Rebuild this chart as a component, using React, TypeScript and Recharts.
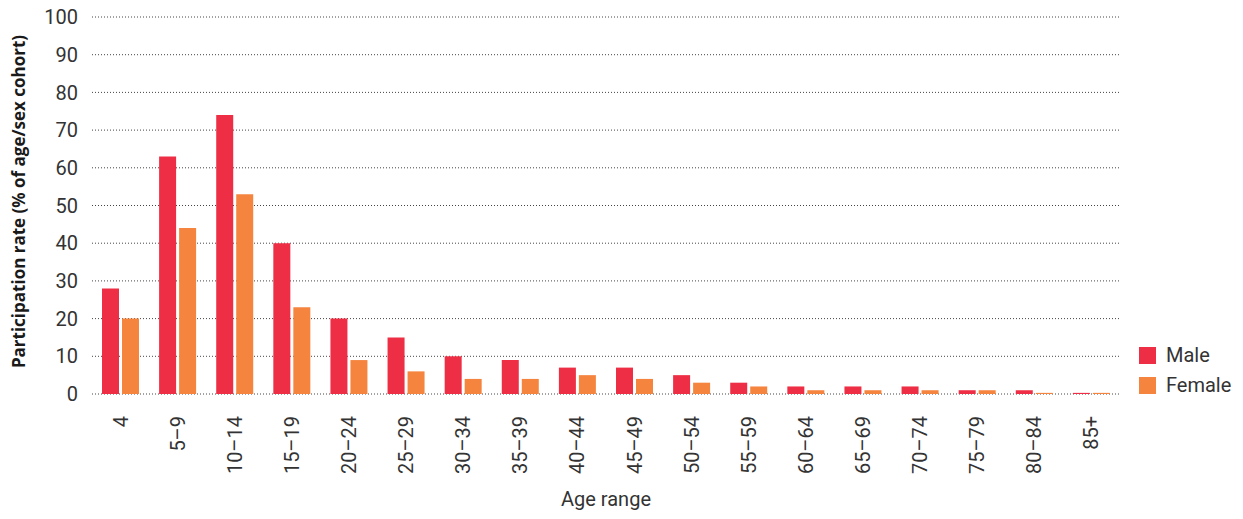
import React from 'react';
import { BarChart, Bar, XAxis, YAxis, CartesianGrid } from 'recharts';

const ageRanges = ['4', '5–9', '10–14', '15–19', '20–24', '25–29', '30–34', '35–39', '40–44', '45–49', '50–54', '55–59', '60–64', '65–69', '70–74', '75–79', '80–84', '85+'];
const maleRates = [28, 63, 74, 40, 20, 15, 10, 9, 7, 7, 5, 3, 2, 2, 2, 1, 1, 0.3];
const femaleRates = [20, 44, 53, 23, 9, 6, 4, 4, 5, 4, 3, 2, 1, 1, 1, 1, 0.3, 0.3];
const yTicks = [0, 10, 20, 30, 40, 50, 60, 70, 80, 90, 100];
const seriesNames = ['Male', 'Female'];

const MALE = '#ee2e44';
const FEMALE = '#f5843f';
const FONT = 'Roboto, "Open Sans", sans-serif';

const data = ageRanges.map((age, i) => ({ age, male: maleRates[i], female: femaleRates[i] }));

const AgeTick = ({ x, y, payload }: { x?: number; y?: number; payload?: { value: string } }) => {
  const ty = (y ?? 0) + 14;
  return (
    <text
      x={x}
      y={ty}
      transform={`rotate(-90, ${x}, ${ty})`}
      textAnchor="end"
      dominantBaseline="central"
      fill="#333"
      fontSize={20}
      fontFamily={FONT}
    >
      {payload?.value}
    </text>
  );
};

const YTitle = ({ viewBox }: { viewBox?: { x: number; y: number; width: number; height: number } }) => {
  const cx = 18;
  const cy = viewBox ? viewBox.y + viewBox.height / 2 - 4 : 200;
  return (
    <text
      x={cx}
      y={cy}
      transform={`rotate(-90, ${cx}, ${cy})`}
      textAnchor="middle"
      dominantBaseline="central"
      fill="#1a1a1a"
      fontSize={17}
      fontWeight="bold"
      fontFamily='"Open Sans", sans-serif'
    >
      Participation rate (% of age/sex cohort)
    </text>
  );
};

export default function App() {
  const colors = [MALE, FEMALE];
  return (
    <div style={{ margin: -8, background: '#fff', width: 1243, height: 519, position: 'relative' }}>
      <BarChart
        width={1243}
        height={519}
        data={data}
        margin={{ top: 17, right: 123, bottom: 0, left: 0 }}
        barCategoryGap={10}
        barGap={3}
      >
        <CartesianGrid vertical={false} stroke="#444" strokeDasharray="1 2" />
        <XAxis
          dataKey="age"
          height={125}
          tickLine={false}
          axisLine={false}
          interval={0}
          tick={<AgeTick />}
          label={{ value: 'Age range', position: 'insideBottom', offset: 13, fill: '#333', fontSize: 20, fontFamily: FONT }}
        />
        <YAxis
          width={92}
          domain={[0, 100]}
          ticks={yTicks}
          tickLine={false}
          axisLine={false}
          tickMargin={8}
          tick={{ fill: '#333', fontSize: 20, fontFamily: FONT }}
          label={<YTitle />}
        />
        <Bar dataKey="male" name="Male" fill={MALE} isAnimationActive={false} />
        <Bar dataKey="female" name="Female" fill={FEMALE} isAnimationActive={false} />
      </BarChart>
      <div style={{ position: 'absolute', left: 1139, top: 340, fontFamily: FONT, fontSize: 20, color: '#333' }}>
        {seriesNames.map((name, i) => (
          <div key={name} style={{ display: 'flex', alignItems: 'center', height: 30 }}>
            <span style={{ width: 17, height: 17, background: colors[i], marginRight: 10, display: 'inline-block' }} />
            <span>{name}</span>
          </div>
        ))}
      </div>
    </div>
  );
}
